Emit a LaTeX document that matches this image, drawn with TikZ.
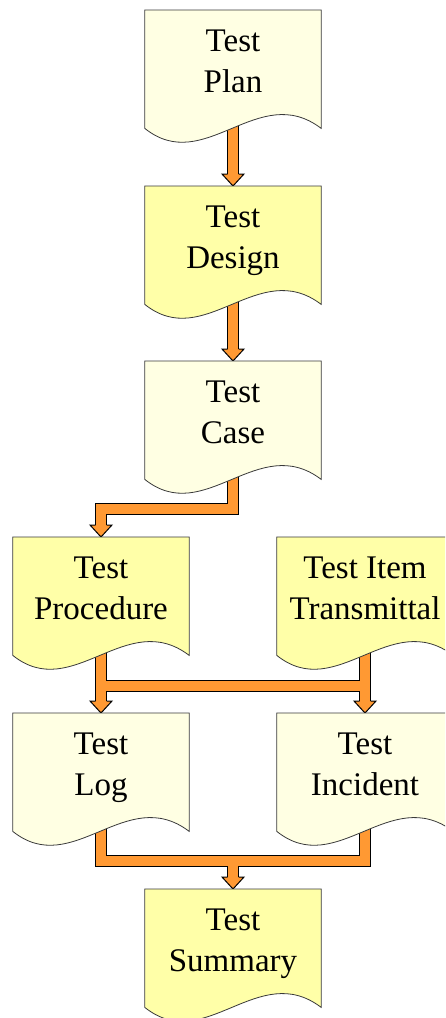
\documentclass[tikz,border=0pt]{standalone}
\usepackage{fontspec}
\setmainfont{Liberation Serif}
\usetikzlibrary{calc}
\pgfdeclarelayer{bg}
\pgfsetlayers{bg,main}
\definecolor{docpale}{HTML}{FFFFE3}
\definecolor{docyellow}{HTML}{FFFFA8}
\definecolor{flow}{HTML}{FF9933}
\definecolor{edge}{HTML}{3A3A3A}
\tikzset{
  docnode/.style={draw=none, minimum width=176pt, minimum height=118pt,
    inner sep=0pt, anchor=north},
  docline/.style={draw=edge, line width=0.8pt},
  lbl/.style={anchor=base, inner sep=0pt,
    font=\fontsize{33}{41}\selectfont},
  shaftout/.style={draw=black, line width=12pt, line join=miter},
  shaftin/.style={draw=flow, line width=10pt, line join=miter},
  headfill/.style={fill=flow},
  headline/.style={draw=black, line width=1pt, line join=miter},
}
% document symbol: flat top, wavy bottom, two text lines
\newcommand\docbox[6]{%
  \node[docnode] (#1) at (#2,#3) {};
  \draw[docline, fill=#4] (#1.north west) -- (#1.north east) -- (#1.south east)
    .. controls +(-63,-48) and +(60,48) .. (#1.south west) -- cycle;
  \node[lbl] (#1-a) at ($(#1.north)+(0,41)$) {#5};
  \node[lbl] (#1-b) at ($(#1.north)+(0,82)$) {#6};
}
% block arrow head with its tip on the given point
\newcommand\blockhead[1]{%
  \fill[headfill] ($(#1)+(-11,-12)$) -- (#1) -- ($(#1)+(11,-12)$) -- cycle;
  \draw[headline] ($(#1)+(-5.5,-12)$) -- ($(#1)+(-11,-12)$) -- (#1)
    -- ($(#1)+(11,-12)$) -- ($(#1)+(5.5,-12)$);
}
\begin{document}
\begin{tikzpicture}[x=1pt, y=-1pt]
\begin{pgfonlayer}{bg}
  \fill[white] (0,0) rectangle (445,1018);
\end{pgfonlayer}
\clip (0,0) rectangle (445,1018);

\docbox{plan}{233}{10}{docpale}{Test}{Plan}
\docbox{design}{233}{186}{docyellow}{Test}{Design}
\docbox{case}{233}{361}{docpale}{Test}{Case}
\docbox{proc}{101}{537}{docyellow}{Test}{Procedure}
\docbox{trans}{365}{537}{docyellow}{Test Item}{Transmittal}
\docbox{log}{101}{713}{docpale}{Test}{Log}
\docbox{incid}{365}{713}{docpale}{Test}{Incident}
\docbox{summ}{233}{889}{docyellow}{Test}{Summary}

% tips and bends of the flow arrows
\coordinate (t-design) at (design.north);
\coordinate (t-case) at (case.north);
\coordinate (t-proc) at (proc.north);
\coordinate (t-log) at (log.north);
\coordinate (t-incid) at (incid.north);
\coordinate (t-summ) at (summ.north);
\coordinate (bend-case) at ($(proc.north)+(0,-28)$);
\coordinate (bar-split-l) at ($(log.north)+(0,-27)$);
\coordinate (bar-split-r) at ($(incid.north)+(0,-27)$);
\coordinate (bar-merge) at ($(summ.north)+(0,-28)$);

\begin{pgfonlayer}{bg}
  \foreach \s in {shaftout, shaftin} {
    \draw[\s] (plan.center) -- ($(t-design)+(0,-11)$);
    \draw[\s] (design.center) -- ($(t-case)+(0,-11)$);
    \draw[\s] (case.center) |- (bend-case) -- ($(t-proc)+(0,-11)$);
    \draw[\s] (proc.center) -- ($(t-log)+(0,-11)$);
    \draw[\s] (trans.center) -- ($(t-incid)+(0,-11)$);
    \draw[\s] (bar-split-l) -- (bar-split-r);
    \draw[\s] (log.center) |- (bar-merge) -| (incid.center);
    \draw[\s] (bar-merge) -- ($(t-summ)+(0,-11)$);
  }
  \blockhead{t-design}
  \blockhead{t-case}
  \blockhead{t-proc}
  \blockhead{t-log}
  \blockhead{t-incid}
  \blockhead{t-summ}
\end{pgfonlayer}
\end{tikzpicture}
\end{document}
